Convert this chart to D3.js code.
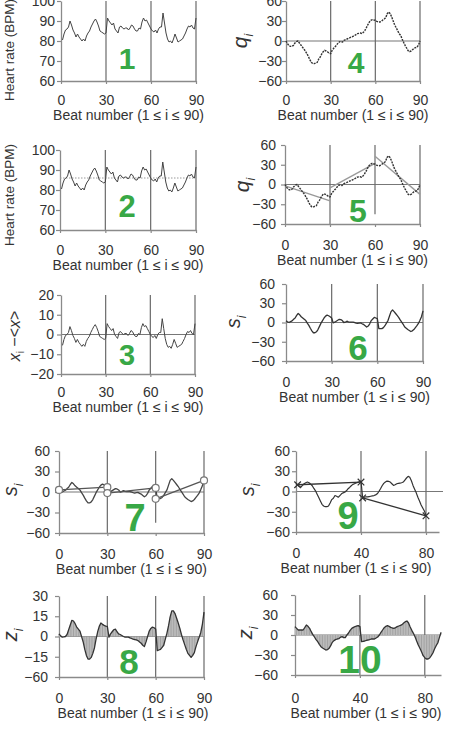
<!DOCTYPE html>
<html>
<head>
<meta charset="utf-8">
<script src="https://cdn.jsdelivr.net/npm/d3@7"></script>
<style>
  body { margin: 0; background: #fff; }
  svg { display: block; font-family: "Liberation Sans", Arial, sans-serif; }
</style>
</head>
<body>
<div id="chart"></div>
<script>
// Heart rate (BPM), beats 1..90
var heartRate = [80.5,83.5,85.5,86,87,90,88,85.5,84,82, 83.5,82,81,80,81,80,82.5,84,85,87,
  88.5,90,91,89.5,87.5,85,84.5,84,83.5,84, 91.5,90,89,88,89,86,85,84,87,87.5,
  86.5,86,86.5,86.5,85.5,86.5,88,87.5,86,85, 85,86.5,86,89.5,91.5,90,90.5,89,87.5,86,
  85,84.5,85.5,84,86,87,87,94,89,84, 81,79.5,80,79,81,83.5,81.5,79.5,80,80.5,
  81,82.5,84,86,87.5,87,88,86.5,86,91.5];
var meanHeartRate = 86;

// x_i - <x>, beats 1..90
var deviation = [-5.5,-2.5,-0.5,0,1,4,2,-0.5,-2,-4, -2.5,-4,-5,-6,-5,-6,-3.5,-2,-1,1,
  2.5,4,5,3.5,1.5,-1,-1.5,-2,-2.5,-2, 5.5,4,3,2,3,0,-1,-2,1,1.5,
  0.5,0,0.5,0.5,-0.5,0.5,2,1.5,0,-1, -1,0.5,0,3.5,5.5,4,4.5,3,1.5,0,
  -1,-1.5,-0.5,-2,0,1,1,8,3,-2, -5,-6.5,-6,-7,-5,-2.5,-4.5,-6.5,-6,-5.5,
  -5,-3.5,-2,0,1.5,1,2,0.5,0,5.5];

// q_i (profile), beats 0..90
var profile = [0,-4,-7,-8,-8,-6.5,-3,-1,0,-3, -6,-9,-12,-15,-19,-23,-28,-32,-34,-34,
  -33,-32,-27,-24,-19.5,-16,-14,-15,-16.5,-18, -19,-14,-11,-8.5,-6,-3,-1,-1,-1.5,1,
  2,3,4,5,6,7,8,9.5,11,11.5, 12,11,13,16,20,24.5,28.5,31,32,31.5,
  31,29.5,28.5,28.5,29.5,31.5,33,35,41,43.5, 41,36,30,24,20,15.5,11,8.5,3,-2,
  -6.5,-10.5,-14.5,-16,-15,-13,-11,-10,-9.5,-6, 0];

// local fits of q_i, window 30
var profileFits = [
  {x1: 0, y1: -2, x2: 30, y2: -25},
  {x1: 30, y1: -5, x2: 60, y2: 32},
  {x1: 60, y1: 43, x2: 90, y2: -15}
];

// s_i, window 30, beats 0..90
var detrended = [2.6,1,0,1.5,2.6,5,7,11,14,12, 9,7,5,3,-1,-4.5,-9,-13,-16,-16,
  -14.5,-11,-6,-1,3,7,10,11.5,10.5,9, 7,-0.5,0.5,2,3.5,5,4.5,3,0,0.5,
  2,1,0.5,0.5,0.5,0,-1,-1.5,-1,-0.5, -2,-3,-5,-7,-5.5,-2,3,5.5,8,7,
  6,-9.5,-9.5,-9.5,-8,-5,-1,3,10,17, 19.5,17,14,11,8,4,0.5,-3,-7,-9,
  -11,-12.5,-14,-13,-11,-8,-5,-1.5,3.5,9, 18];

// end-point lines on s_i, window 30
var detrendedEnds = [
  {x1: 0, y1: 3, x2: 30, y2: 7},
  {x1: 30, y1: -1.5, x2: 60, y2: 6},
  {x1: 60, y1: -10, x2: 90, y2: 17}
];

// z_i, window 30, beats 0..90
var zWin30 = [2,0.5,-0.5,-0.3,0,1.5,5,8.5,12,11.5, 9.5,7,5.5,4,0,-4,-9.5,-14,-16.75,-16.75,
  -15.5,-12.5,-8.5,-2,3.5,7.5,10,9,8.25,7.75, 7.5,-0.5,2,3.5,5,5.5,3.5,2,1.5,0.75,
  0,-0.5,-0.5,-0.5,-1,-1.5,-2,-2.25,-2.5,-3, -4,-5,-6.5,-7.5,-4,0,4,6,7,6.5,
  5.5,-10.5,-10,-9.5,-8,-6.5,-2,2.5,8,14.5, 19,19,17,13.5,10,6,1.5,-2.5,-6,-9.5,
  -12.5,-14,-15.5,-14,-12,-7.5,-4,-0.5,3,9, 18];

// s_i, window 40, beats 0..80
var detrended40 = [11.5,9.5,7.5,6.5,9,11.5,13,14,13,11, 8.5,4.5,1,-4,-9,-14,-19,-21.5,-22.5,-22.5,
  -21.5,-17,-12,-10,-6,-7,-8.5,-6,-3.5,-2, -1,1,4,6,8.5,10.5,11.5,12.5,13.5,14.5,
  15.5,-9.5,-8.5,-8,-8,-7.5,-7,-6.5,-6,-5, -3.5,0,4,8.5,12,14,15.5,15,14,11.5,
  9,10,11.5,12,12.5,13,14,17,20,22.5, 21,16,9,3.5,-2,-8.5,-14,-20,-24.5,-29,
  -35];

var detrended40Ends = [
  {x1: 1, y1: 10, x2: 40, y2: 14},
  {x1: 41, y1: -9.5, x2: 80, y2: -36}
];

// z_i, window 40, beats 0..90
var zWin40 = [12.5,10,7.5,7.5,7.5,7.5,11,15,13,10, 5,0.5,-3,-7,-10,-14,-17.5,-19.5,-21,-22.5,
  -22,-20,-16,-11,-8.5,-7,-6,-5.5,-3.5,-2.5, -4,-4,0,3,7,10,11.5,12.5,13.5,14,
  12.5,-10,-9.5,-9,-8,-7.5,-7,-6,-6,-6, -4.5,-3,0,4,7.5,11,13,14,13,11.5,
  10.5,10,11,12.5,13.5,14.5,15.5,18,20,21, 18,12,7,2.5,-2.5,-9,-15,-20,-25,-31,
  -34,-36,-36,-34.5,-31,-27,-21,-16,-12,-4, 4];

// tick values and labels
var ticks90 = [0, 30, 60, 90];
var ticks40 = [0, 40, 80];
var hrTicks = [60, 70, 80, 90, 100];
var devTicks = [-20, -10, 0, 10, 20];
var qTicks = [-60, -30, 0, 30, 60];
var zTicks = [-30, -15, 0, 15, 30];
var zTickLabels = ["\u221260", "\u221215", "0", "15", "30"];
var xTitle = "Beat number (1 \u2264 i \u2264 90)";

var green = "#38a846";

var svg = d3.select("#chart").append("svg")
  .attr("width", 449)
  .attr("height", 729);

function fmt(d) { return d < 0 ? "\u2212" + Math.abs(d) : String(d); }

function panel(p) {
  var x = d3.scaleLinear().domain(p.xDomain).range([p.left, p.right]);
  var y = d3.scaleLinear().domain(p.yDomain).range([p.bottom, p.top]);
  var g = svg.append("g");

  // zero line
  if (p.zero) {
    g.append("line")
      .attr("x1", p.left).attr("x2", p.zeroRight || p.right)
      .attr("y1", y(0)).attr("y2", y(0))
      .attr("stroke", "#777").attr("stroke-width", 1.2);
  }

  // vertical window lines
  g.selectAll(".vl").data(p.vlines).join("line")
    .attr("x1", d => x(d)).attr("x2", d => x(d))
    .attr("y1", p.top)
    .attr("y2", d => (p.shortLine === d ? y(-45) : p.bottom))
    .attr("stroke", "#6a6a6a").attr("stroke-width", 1.2);

  // axes
  var ya = g.append("g")
    .attr("transform", `translate(${p.left},0)`)
    .call(d3.axisLeft(y).tickValues(p.yTicks)
      .tickFormat((d, i) => p.yLabels ? p.yLabels[i] : fmt(d))
      .tickSizeInner(4).tickSizeOuter(0)
      .tickPadding(Math.max(0, p.left - 4 - p.labelRight)));
  var xa = g.append("g")
    .attr("transform", `translate(0,${p.bottom})`)
    .call(d3.axisBottom(x).tickValues(p.xTicks)
      .tickSizeInner(3).tickSizeOuter(0)
      .tickPadding(p.tickLabelY - p.bottom - 8));
  [ya, xa].forEach(function (a) {
    a.select(".domain").attr("stroke", "#8a8a8a").attr("stroke-width", 1.3);
    a.selectAll(".tick line").attr("stroke", "#8a8a8a").attr("stroke-width", 1.2);
    a.selectAll(".tick text").attr("fill", "#333").style("font-size", "14px")
      .style("font-family", "'Liberation Sans', Arial, sans-serif");
  });

  g.append("text")
    .attr("x", p.titleX || (p.left + p.right) / 2)
    .attr("y", p.tickLabelY + 20)
    .attr("text-anchor", "middle")
    .attr("fill", "#333")
    .style("font-size", "14px")
    .text(xTitle);

  return {g: g, x: x, y: y};
}

function curve(c, data, start, width, dash, color) {
  var line = d3.line().x((d, i) => c.x(i + start)).y(d => c.y(d));
  c.g.append("path")
    .attr("d", line(data))
    .attr("fill", "none")
    .attr("stroke", color || "#333")
    .attr("stroke-width", width)
    .attr("stroke-dasharray", dash || null)
    .attr("stroke-linejoin", "round");
}

function shaded(c, data) {
  var area = d3.area().x((d, i) => c.x(i)).y0(c.y(0)).y1(d => c.y(d));
  c.g.append("path").attr("d", area(data)).attr("fill", "#cdcdcd");
  c.g.selectAll(".hatch").data(data).join("line")
    .attr("x1", (d, i) => c.x(i)).attr("x2", (d, i) => c.x(i))
    .attr("y1", c.y(0)).attr("y2", d => c.y(d))
    .attr("stroke", "#777").attr("stroke-width", 0.5);
  curve(c, data, 0, 1.3);
}

function segments(c, data, color, width) {
  c.g.selectAll(".seg").data(data).join("line")
    .attr("x1", d => c.x(d.x1)).attr("y1", d => c.y(d.y1))
    .attr("x2", d => c.x(d.x2)).attr("y2", d => c.y(d.y2))
    .attr("stroke", color).attr("stroke-width", width);
}

function yLabel(x, y, main, sub, size) {
  var t = svg.append("text")
    .attr("transform", `translate(${x},${y}) rotate(-90)`)
    .attr("text-anchor", "middle")
    .attr("fill", "#333")
    .style("font-size", size + "px");
  if (sub) {
    t.append("tspan").style("font-style", "italic").text(main);
    t.append("tspan").attr("dy", size * 0.3).style("font-size", (size * 0.6) + "px")
      .style("font-style", "italic").text(sub);
  } else {
    t.text(main);
  }
  return t;
}

function bigNumber(label, x, y, size) {
  svg.append("text")
    .attr("x", x).attr("y", y + size * 0.36)
    .attr("text-anchor", "middle")
    .attr("fill", green)
    .style("font-size", size + "px")
    .style("font-weight", "bold")
    .text(label);
}

// Panel 1: heart rate
var p1 = panel({left: 61, right: 196, top: 1, bottom: 81, xDomain: [0, 90], yDomain: [60, 100],
  xTicks: ticks90, yTicks: hrTicks, vlines: [30, 60, 90], labelRight: 55, tickLabelY: 100});
curve(p1, heartRate, 1, 1, null, "#444");
yLabel(14, 50, "Heart rate (BPM)", null, 13.5);

// Panel 2: heart rate with mean
var p2 = panel({left: 60, right: 196, top: 150, bottom: 230, xDomain: [0, 90], yDomain: [60, 100],
  xTicks: ticks90, yTicks: hrTicks, vlines: [30, 60, 90], labelRight: 55, tickLabelY: 250});
p2.g.append("line")
  .attr("x1", p2.x(0)).attr("x2", p2.x(90))
  .attr("y1", p2.y(meanHeartRate)).attr("y2", p2.y(meanHeartRate))
  .attr("stroke", "#999").attr("stroke-dasharray", "1.5,1.5");
curve(p2, heartRate, 1, 1, null, "#444");
yLabel(14, 195, "Heart rate (BPM)", null, 13.5);

// Panel 3: deviation from mean
var p3 = panel({left: 61, right: 195, top: 295, bottom: 374, xDomain: [0, 90], yDomain: [-20, 20],
  xTicks: ticks90, yTicks: devTicks, vlines: [30, 60, 90], labelRight: 54, tickLabelY: 392, zero: true});
curve(p3, deviation, 1, 1, null, "#444");
var l3 = svg.append("text")
  .attr("transform", "translate(20,336) rotate(-90)")
  .attr("text-anchor", "middle")
  .attr("fill", "#333")
  .style("font-size", "16px");
l3.append("tspan").style("font-style", "italic").text("x");
l3.append("tspan").attr("dy", 4).style("font-size", "10px").text("i");
l3.append("tspan").attr("dy", -4).text(" \u2212<");
l3.append("tspan").style("font-style", "italic").text("x");
l3.append("tspan").text(">");

// Panel 4: profile q_i
var p4 = panel({left: 286, right: 420, top: 1, bottom: 81, xDomain: [0, 90], yDomain: [-60, 60],
  xTicks: ticks90, yTicks: qTicks, vlines: [30, 60, 90], labelRight: 282, tickLabelY: 100, zero: true});
curve(p4, profile, 0, 1.4, "2,1");
yLabel(247, 41, "q", "i", 21);

// Panel 5: profile with local fits
var p5 = panel({left: 285, right: 420, top: 145, bottom: 224, xDomain: [0, 90], yDomain: [-60, 60],
  xTicks: ticks90, yTicks: qTicks, vlines: [30, 60, 90], shortLine: 60, labelRight: 276, tickLabelY: 245, zero: true});
segments(p5, profileFits, "#9a9a9a", 1.4);
curve(p5, profile, 0, 1.4, "2,1");
yLabel(249, 185, "q", "i", 21);

// Panel 6: detrended s_i
var p6 = panel({left: 286, right: 423, top: 284, bottom: 361, xDomain: [0, 90], yDomain: [-60, 60],
  xTicks: ticks90, yTicks: qTicks, vlines: [30, 60, 90], labelRight: 275, tickLabelY: 382, zero: true});
curve(p6, detrended, 0, 1.3);
yLabel(240, 322, "s", "i", 20);

// Panel 7: s_i with end-point lines
var p7 = panel({left: 59, right: 204, top: 451, bottom: 533, xDomain: [0, 90], yDomain: [-60, 60],
  xTicks: ticks90, yTicks: qTicks, vlines: [30, 60, 90], shortLine: 60, labelRight: 50, tickLabelY: 554, zero: true});
curve(p7, detrended, 0, 1.3, null, "#444");
segments(p7, detrendedEnds, "#555", 1.3);
var ends7 = detrendedEnds.flatMap(d => [[d.x1, d.y1], [d.x2, d.y2]]);
p7.g.selectAll(".mk").data(ends7).join("circle")
  .attr("cx", d => p7.x(d[0])).attr("cy", d => p7.y(d[1]))
  .attr("r", 3.5).attr("fill", "#fff").attr("stroke", "#777").attr("stroke-width", 1.2);
yLabel(17, 490, "s", "i", 20);

// Panel 9: s_i, window 40, with end-point lines
var p9 = panel({left: 296, right: 439, top: 451, bottom: 532, xDomain: [0, 88], yDomain: [-60, 60],
  xTicks: ticks40, yTicks: qTicks, vlines: [40, 80], labelRight: 290, tickLabelY: 553, zero: true,
  zeroRight: 443, titleX: 356});
curve(p9, detrended40, 0, 1.2);
segments(p9, detrended40Ends, "#333", 1.3);
var ends9 = detrended40Ends.flatMap(d => [[d.x1, d.y1], [d.x2, d.y2]]);
p9.g.selectAll(".mk").data(ends9).join("path")
  .attr("d", d3.symbol(d3.symbolX, 30))
  .attr("transform", d => `translate(${p9.x(d[0])},${p9.y(d[1])})`)
  .attr("stroke", "#333").attr("stroke-width", 1.2).attr("fill", "none");
yLabel(254, 490, "s", "i", 20);

// Panel 8: z_i, window 30
var p8 = panel({left: 59, right: 204, top: 596, bottom: 677, xDomain: [0, 90], yDomain: [-30, 30],
  xTicks: ticks90, yTicks: zTicks, yLabels: zTickLabels, vlines: [30, 60, 90], labelRight: 48,
  tickLabelY: 698, zero: true, titleX: 133});
shaded(p8, zWin30);
yLabel(17, 635, "z", "i", 20);

// Panel 10: z_i, window 40
var p10 = panel({left: 295, right: 441, top: 595, bottom: 675, xDomain: [0, 90], yDomain: [-60, 60],
  xTicks: ticks40, yTicks: qTicks, vlines: [40, 80], labelRight: 278, tickLabelY: 698, zero: true,
  titleX: 366});
shaded(p10, zWin40);
yLabel(252, 633, "z", "i", 20);

// Panel numbers
bigNumber("1", 127, 58, 30);
bigNumber("2", 127, 206, 31);
bigNumber("3", 127, 355, 29);
bigNumber("4", 356, 62, 30);
bigNumber("5", 358, 210, 32);
bigNumber("6", 358, 347, 35);
bigNumber("7", 135, 517, 38);
bigNumber("9", 348, 515, 38);
bigNumber("8", 129, 661, 35);
bigNumber("10", 360, 659, 39);
</script>
</body>
</html>
